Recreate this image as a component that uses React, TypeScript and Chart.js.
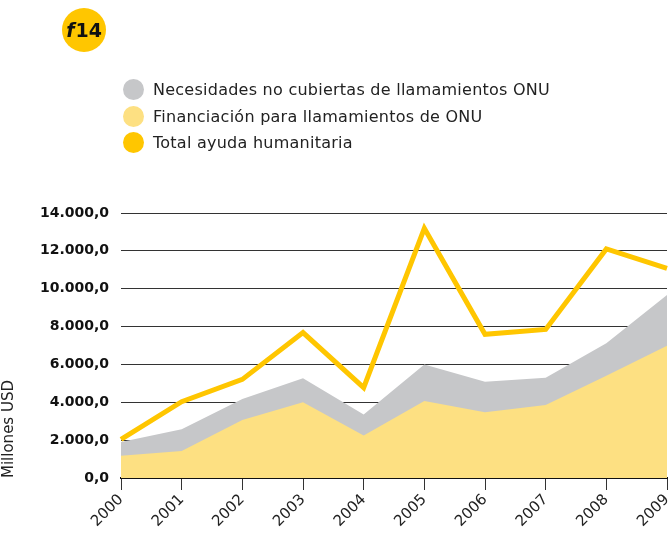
import React, { useEffect, useRef } from "react";
import { Chart, registerables } from "chart.js";

Chart.register(...registerables);

const years = ["2000", "2001", "2002", "2003", "2004", "2005", "2006", "2007", "2008", "2009"];
const funding = [1180, 1430, 3060, 4000, 2240, 4070, 3470, 3860, 5400, 6990];
const unmet = [720, 1140, 1110, 1270, 1120, 1920, 1620, 1440, 1720, 2680];
const totalAid = [2040, 4030, 5210, 7680, 4770, 13190, 7590, 7850, 12100, 11080];
const yTicks = [0, 2000, 4000, 6000, 8000, 10000, 12000, 14000];

const legendItems = [
  { label: "Necesidades no cubiertas de llamamientos ONU", color: "#C6C7C9" },
  { label: "Financiación para llamamientos de ONU", color: "#FDE082" },
  { label: "Total ayuda humanitaria", color: "#FFC600" },
];

const fmt = (v: number) => {
  const s = Math.round(v).toString().replace(/\B(?=(\d{3})+(?!\d))/g, ".");
  return s + ",0";
};

export default function App() {
  const ref = useRef<HTMLCanvasElement | null>(null);
  useEffect(() => {
    if (!ref.current) return;
    const chart = new Chart(ref.current, {
      type: "line",
      data: {
        labels: years,
        datasets: [
          {
            label: "Financiación para llamamientos de ONU",
            data: funding,
            backgroundColor: "#FDE082",
            borderWidth: 0,
            pointRadius: 0,
            fill: "origin",
            stack: "areas",
            tension: 0,
          },
          {
            label: "Necesidades no cubiertas de llamamientos ONU",
            data: unmet,
            backgroundColor: "#C6C7C9",
            borderWidth: 0,
            pointRadius: 0,
            fill: "origin",
            stack: "areas",
            tension: 0,
          },
          {
            label: "Total ayuda humanitaria",
            data: totalAid,
            borderColor: "#FFC600",
            borderWidth: 5,
            pointRadius: 0,
            fill: false,
            stack: "line",
            tension: 0,
            order: -1,
          },
        ],
      },
      options: {
        responsive: false,
        animation: false,
        layout: { padding: { top: 213, right: 3, left: 0, bottom: 0 } },
        plugins: { legend: { display: false }, tooltip: { enabled: false } },
        scales: {
          x: {
            type: "category",
            offset: false,
            grid: { drawOnChartArea: false, drawTicks: true, tickLength: 12, color: "#333", lineWidth: 1 },
            border: { display: true, color: "#111", width: 2 },
            ticks: {
              minRotation: 45,
              maxRotation: 45,
              padding: 1,
              color: "#222",
              font: { family: "DejaVu Sans", size: 15 },
            },
            afterFit: (s: any) => {
              s.height = 56;
              s.paddingRight = 0;
              s.paddingLeft = 0;
            },
          },
          y: {
            stacked: true,
            min: 0,
            max: 14000,
            afterBuildTicks: (s: any) => {
              s.ticks = yTicks.map((v) => ({ value: v }));
            },
            grid: { drawTicks: false, color: "#333", lineWidth: 1 },
            border: { display: false },
            ticks: {
              padding: 12,
              color: "#111",
              font: { family: "DejaVu Sans", size: 14, weight: "bold" },
              callback: (v: any) => fmt(Number(v)),
            },
            title: {
              display: true,
              text: "Millones USD",
              align: "start",
              color: "#222",
              padding: { top: 0, bottom: 0 },
              font: { family: "DejaVu Sans", size: 15 },
            },
            afterFit: (s: any) => {
              s.width = 121;
            },
          },
        },
      },
    });
    return () => chart.destroy();
  }, []);

  return (
    <div style={{ position: "absolute", left: 0, top: 0, width: 670, height: 534, fontFamily: "DejaVu Sans" }}>
      <canvas ref={ref} width={670} height={534} style={{ position: "absolute", left: 0, top: 0 }} />
      <div
        style={{
          position: "absolute",
          left: 62,
          top: 8,
          width: 44,
          height: 44,
          borderRadius: "50%",
          background: "#FFC600",
          display: "flex",
          alignItems: "center",
          justifyContent: "center",
          fontWeight: "bold",
          fontSize: 19,
          color: "#111",
        }}
      >
        <span style={{ fontStyle: "italic", marginRight: 1 }}>f</span>14
      </div>
      {legendItems.map((it, i) => (
        <div
          key={it.label}
          style={{ position: "absolute", left: 123, top: 79 + i * 26.5, height: 21, display: "flex", alignItems: "center" }}
        >
          <div style={{ width: 21, height: 21, borderRadius: "50%", background: it.color }} />
          <span style={{ marginLeft: 9, fontSize: 16, letterSpacing: 0.25, color: "#222", whiteSpace: "nowrap" }}>
            {it.label}
          </span>
        </div>
      ))}
    </div>
  );
}
